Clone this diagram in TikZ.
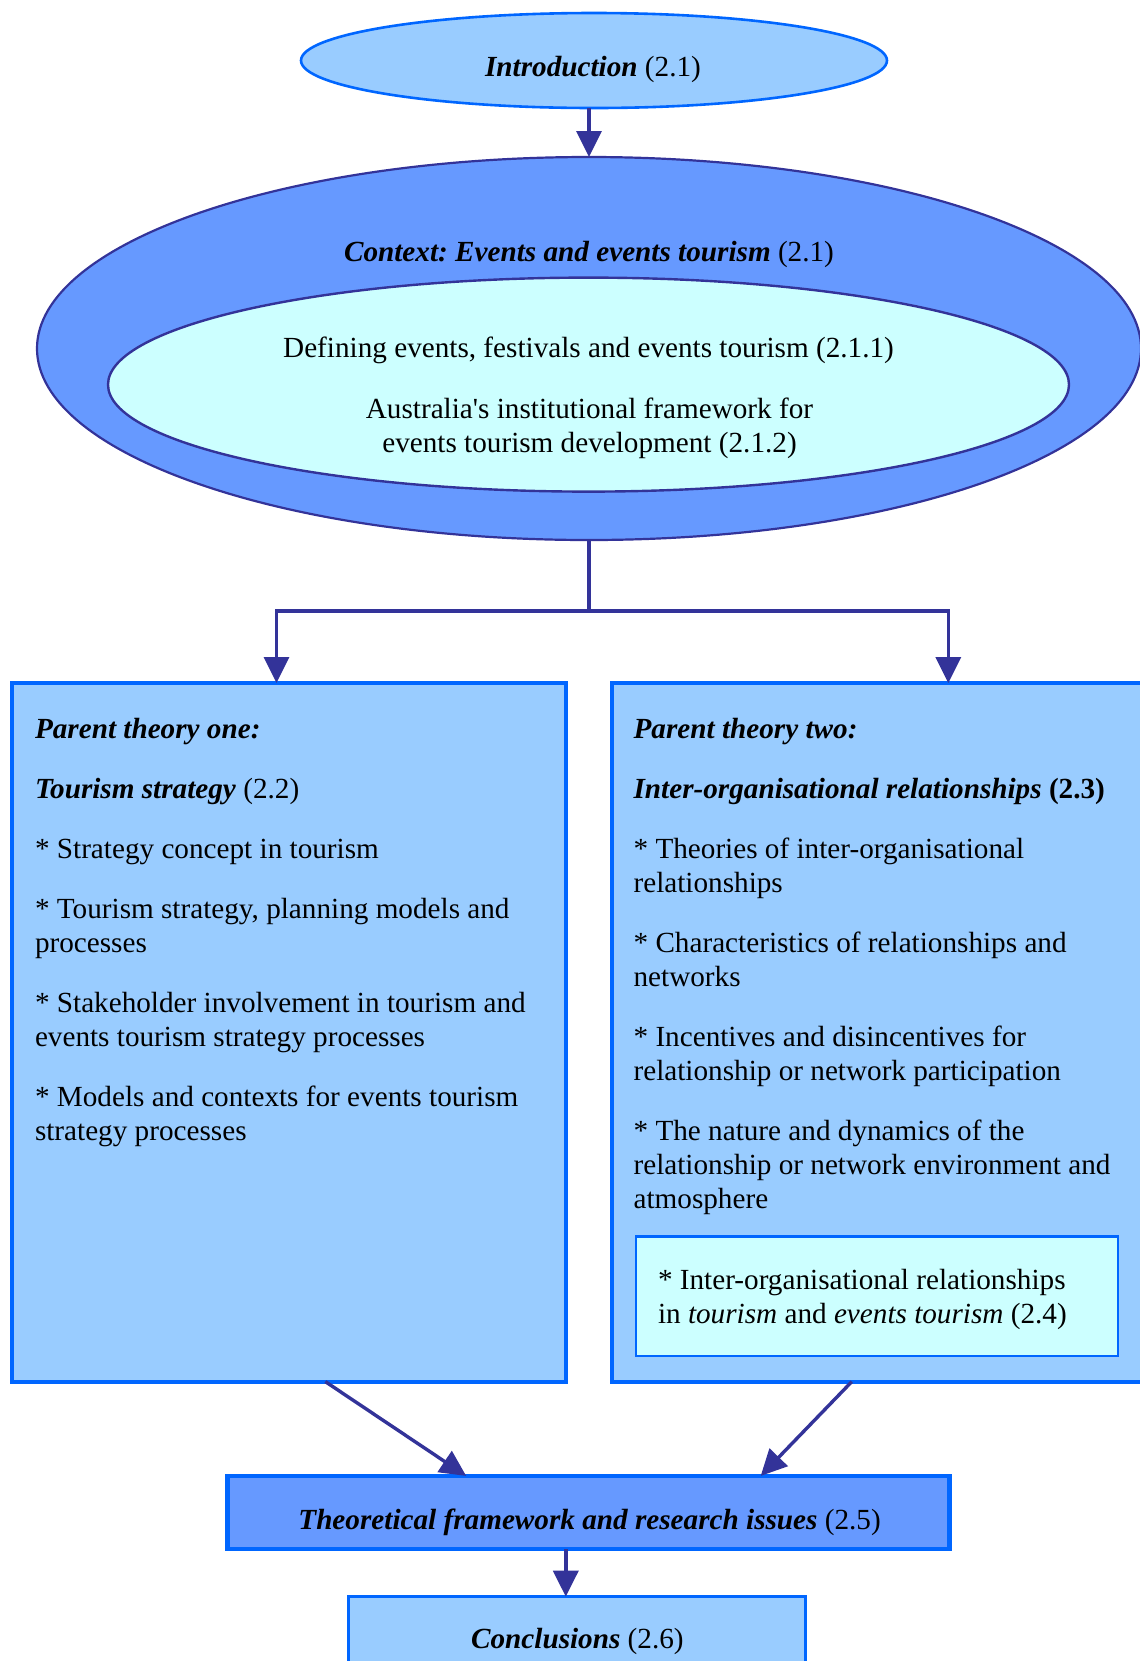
\documentclass[tikz,border=0pt]{standalone}
\usepackage{fontspec}
\setmainfont{Liberation Serif}
\usetikzlibrary{arrows.meta,shapes.geometric,calc}
\definecolor{paleblue}{HTML}{99CCFF}
\definecolor{midblue}{HTML}{6699FF}
\definecolor{palecyan}{HTML}{CCFFFF}
\definecolor{edgeblue}{HTML}{0066FF}
\definecolor{navy}{HTML}{333399}
\newcommand{\bodysize}{\fontsize{14.6}{17}\selectfont\frenchspacing}
\newcommand{\bi}[1]{\textbf{\textit{#1}}}

\begin{document}
\begin{tikzpicture}[x=0.5pt,y=-0.5pt,
  every node/.style={font=\bodysize, inner sep=0pt, outer sep=0pt},
  blob/.style={ellipse, inner sep=0pt},
  panel/.style={rectangle, anchor=north west, draw=edgeblue, line width=2pt, fill=paleblue},
  caption/.style={anchor=base},
  para/.style={anchor=base west},
  flow/.style={draw=navy, line width=1.7pt},
  flowarrow/.style={flow, -{Triangle[length=13pt,width=12.5pt]}}]

\useasboundingbox (0,0) rectangle (1140,1661);

% introduction
\node[blob, draw=edgeblue, line width=1.3pt, fill=paleblue,
      minimum width=293pt, minimum height=47.5pt] (intro) at (594,60.5) {};
\node[caption] (introtext) at (593,76) {\bi{Introduction} (2.1)};

% context ellipses
\node[blob, draw=navy, line width=1.1pt, fill=midblue,
      minimum width=552pt, minimum height=191.5pt] (ctx) at (589,348.5) {};
\node[caption] (ctxtitle) at (589,261) {\bi{Context: Events and events tourism} (2.1)};
\node[blob, draw=navy, line width=1.2pt, fill=palecyan,
      minimum width=480.5pt, minimum height=107pt] (ctxin) at (588.5,384.6) {};
\node[caption] (defining) at (588.5,357.5) {Defining events, festivals and events tourism (2.1.1)};
\node[caption] (framework) at (589.5,418) {\parbox[t]{300pt}{\centering
  Australia\textquotesingle s institutional framework for\\
  events tourism development (2.1.2)}};

% parent theory panels
\node[panel, minimum width=277pt, minimum height=349.3pt] (left) at (11.7,683) {};
\node[panel, minimum width=268pt, minimum height=349.3pt] (right) at (612.4,683) {};

\node[para] (lefttext) at (35,738) {\parbox[t]{280pt}{\raggedright\setlength{\parskip}{13pt}%
  \bi{Parent theory one:}\par
  \bi{Tourism strategy} (2.2)\par
  * Strategy concept in tourism\par
  * Tourism strategy, planning models and\\ processes\par
  * Stakeholder involvement in tourism and\\ events tourism strategy processes\par
  * Models and contexts for events tourism\\ strategy processes}};

\node[para] (righttext) at (633.6,738) {\parbox[t]{280pt}{\raggedright\setlength{\parskip}{13pt}%
  \bi{Parent theory two:}\par
  \bi{Inter-organisational relationships} \textbf{(2.3)}\par
  * Theories of inter-organisational\\ relationships\par
  * Characteristics of relationships and\\ networks\par
  * Incentives and disincentives for\\ relationship or network participation\par
  * The nature and dynamics of the\\ relationship or network environment and\\ atmosphere}};

\node[panel, line width=1.2pt, fill=palecyan,
      minimum width=241pt, minimum height=59.9pt] (tourismior) at (635.7,1236.4) {};
\node[para] (tourismiortext) at (658,1289) {\parbox[t]{240pt}{\raggedright
  * Inter-organisational relationships\\ in \textit{tourism} and \textit{events tourism} (2.4)}};

% synthesis and conclusions
\node[panel, fill=midblue, line width=2.4pt,
      minimum width=360.75pt, minimum height=36.55pt] (theory) at (227.8,1475.9) {};
\node[caption] (theorytext) at (589.6,1529) {\bi{Theoretical framework and research issues} (2.5)};
\node[panel, line width=1.3pt,
      minimum width=228.3pt, minimum height=45pt] (concl) at (348.6,1596.7) {};
\node[caption] (concltext) at (577.4,1648) {\bi{Conclusions} (2.6)};

% connectors
\coordinate (split) at (589,611);
\coordinate (lbend) at (276.5,611);
\coordinate (rbend) at (948.3,611);
\draw[flowarrow] (intro.south -| ctx.north) -- (ctx.north);
\draw[flow] (ctx.south) -- (split);
\draw[flowarrow] (split) -| (lbend |- left.north);
\draw[flowarrow] (split) -| (rbend |- right.north);
\draw[flowarrow] ($(left.south west)+(313.6,0)$) -- ($(theory.north west)+(238.4,0)$);
\draw[flowarrow] ($(right.south west)+(239.4,0)$) -- ($(theory.north west)+(532.9,0)$);
\draw[flowarrow] ($(theory.south west)+(338,0)$) -- ($(concl.north west)+(217.2,0)$);
\end{tikzpicture}
\end{document}
